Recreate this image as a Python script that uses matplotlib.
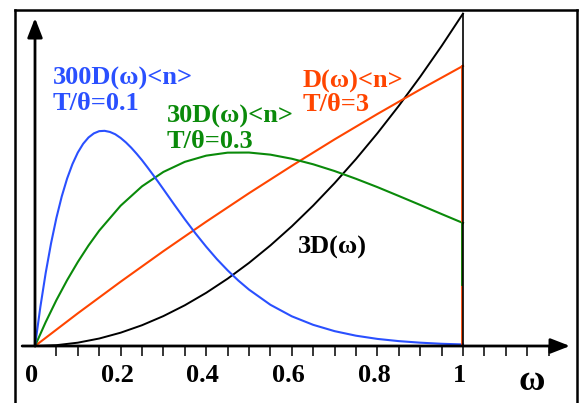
"""Debye model: D(w)<n> at several temperatures."""

import matplotlib.pyplot as plt
import numpy as np

# omega grid (fine steps for the low-T curve, coarse for the rest)
w_blue = [0, 0.0125, 0.025, 0.0375, 0.05, 0.0625, 0.075, 0.0875, 0.1, 0.1125,
          0.125, 0.1375, 0.15, 0.1625, 0.175, 0.1875, 0.2, 0.2125, 0.225,
          0.2375, 0.25, 0.2625, 0.275, 0.2875, 0.3, 0.325, 0.35, 0.375, 0.4,
          0.425, 0.45, 0.475, 0.5, 0.55, 0.6, 0.65, 0.7, 0.75, 0.8, 0.85, 0.9,
          0.95, 1.0]
blue_vals = [0, 0.352, 0.660, 0.927, 1.156, 1.350, 1.511, 1.642, 1.746, 1.825,
             1.882, 1.919, 1.939, 1.942, 1.932, 1.911, 1.878, 1.837, 1.789,
             1.735, 1.677, 1.614, 1.549, 1.483, 1.415, 1.278, 1.144, 1.016,
             0.896, 0.784, 0.683, 0.591, 0.509, 0.372, 0.268, 0.191, 0.134,
             0.093, 0.064, 0.044, 0.030, 0.020, 0.014]

w_green = [0, 0.025, 0.05, 0.075, 0.1, 0.125, 0.15, 0.2, 0.25, 0.3, 0.35, 0.4,
           0.45, 0.5, 0.55, 0.6, 0.65, 0.7, 0.75, 0.8, 0.85, 0.9, 0.95, 1.0]
green_vals = [0, 0.216, 0.414, 0.594, 0.758, 0.907, 1.041, 1.266, 1.441, 1.571,
              1.662, 1.718, 1.745, 1.746, 1.727, 1.690, 1.640, 1.579, 1.509,
              1.434, 1.354, 1.273, 1.191, 1.110]

w_red = [0, 0.1, 0.2, 0.3, 0.4, 0.5, 0.6, 0.7, 0.8, 0.9, 1.0]
red_vals = [0, 0.295, 0.580, 0.856, 1.122, 1.379, 1.626, 1.865, 2.094, 2.315, 2.528]

w_black = [0, 0.05, 0.1, 0.15, 0.2, 0.25, 0.3, 0.35, 0.4, 0.45, 0.5, 0.55,
           0.6, 0.65, 0.7, 0.75, 0.8, 0.85, 0.9, 0.95, 1.0]
black_vals = [0, 0.0075, 0.03, 0.0675, 0.12, 0.1875, 0.27, 0.3675, 0.48,
              0.6075, 0.75, 0.9075, 1.08, 1.2675, 1.47, 1.6875, 1.92, 2.1675,
              2.43, 2.7075, 3.0]

tick_labels = ["0", "0.2", "0.4", "0.6", "0.8", "1"]
tick_values = [0, 0.2, 0.4, 0.6, 0.8, 1.0]

BLUE = "#2a50ff"
GREEN = "#0a8a0a"
RED = "#ff4500"

fig = plt.figure(figsize=(5.82, 4.03), dpi=100)
ax = fig.add_axes([0, 0, 1, 1])
ax.set_xlim(-35 / 428, 547 / 428)
ax.set_ylim(-57 / 110.8, 346 / 110.8)
ax.axis("off")

# outer frame (bottom edge is cropped off in the original)
fig.add_artist(plt.Line2D([15 / 582, 15 / 582], [0, 393 / 403], color="k", lw=1.8))
fig.add_artist(plt.Line2D([15 / 582, 577 / 582], [393 / 403, 393 / 403], color="k", lw=1.8))
fig.add_artist(plt.Line2D([577 / 582, 577 / 582], [0, 393 / 403], color="k", lw=1.8))

# axes with arrows
arrow = dict(arrowstyle="-|>,head_length=0.9,head_width=0.35", color="k",
             lw=2.0, mutation_scale=13, shrinkA=0, shrinkB=0)
ax.annotate("", xy=(1.25, 0), xytext=(-0.03, 0), arrowprops=arrow)
ax.annotate("", xy=(0, 2.96), xytext=(0, 0), arrowprops=arrow)

ticks = np.arange(0.05, 1.201, 0.05)
ax.vlines(ticks, -0.09, 0, color="k", lw=1.1)
for val, lab in zip(tick_values, tick_labels):
    ax.text(val - 0.008, -0.322, lab, ha="center", va="baseline",
            family="Liberation Serif", weight="bold", fontsize=19)
ax.text(1.161, -0.397, "ω", ha="center", va="baseline",
        family="Liberation Serif", weight="bold", fontsize=26)

# curves
ax.plot(w_black, black_vals, color="k", lw=1.4)
ax.plot(w_red, red_vals, color=RED, lw=1.5)
ax.plot(w_green, green_vals, color=GREEN, lw=1.5)
ax.plot(w_blue, blue_vals, color=BLUE, lw=1.5)

# cut-off at the Debye frequency
ax.plot([0.998, 0.998], [0, red_vals[-1]], color=RED, lw=1.3)
ax.plot([0.998, 0.998], [0.55, green_vals[-1]], color=GREEN, lw=1.3)
ax.plot([1.001, 1.001], [0, black_vals[-1]], color="k", lw=1.2)

font = dict(family="Liberation Serif", weight="bold", fontsize=19, va="baseline")
ax.text(0.042, 2.356, "300D(ω)<n>", color=BLUE, **font)
ax.text(0.042, 2.130, "T/θ=0.1", color=BLUE, **font)
ax.text(0.308, 2.016, "30D(ω)<n>", color=GREEN, **font)
ax.text(0.308, 1.790, "T/θ=0.3", color=GREEN, **font)
ax.text(0.625, 2.335, "D(ω)<n>", color=RED, **font)
ax.text(0.625, 2.124, "T/θ=3", color=RED, **font)
ax.text(0.615, 0.837, "3D(ω)", color="k", **font)

fig.savefig("out.png", dpi=100)
plt.close(fig)
